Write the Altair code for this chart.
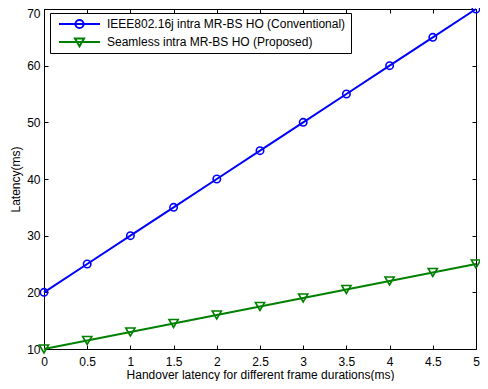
import altair as alt
import pandas as pd

x_vals = [0, 0.5, 1, 1.5, 2, 2.5, 3, 3.5, 4, 4.5, 5]
conventional = [20, 25, 30, 35, 40, 45, 50, 55, 60, 65, 70]
proposed = [10, 11.5, 13, 14.5, 16, 17.5, 19, 20.5, 22, 23.5, 25]
series_names = ["IEEE802.16j intra MR-BS HO (Conventional)",
                "Seamless intra MR-BS HO (Proposed)"]
series_colors = ["#0000ff", "#008000"]
marker_shapes = ["circle", "triangle-down"]
marker_sizes = [55, 85]
x_ticks = [0, 0.5, 1, 1.5, 2, 2.5, 3, 3.5, 4, 4.5, 5]
y_ticks = [10, 20, 30, 40, 50, 60, 70]
x_title = "Handover latency for different frame durations(ms)"
y_title = "Latency(ms)"

rows = []
for name, vals in zip(series_names, [conventional, proposed]):
    for xv, yv in zip(x_vals, vals):
        rows.append({"x": xv, "y": yv, "series": name})
df = pd.DataFrame(rows)

W, H = 432, 340
FONT = "Liberation Sans"

# legend glyphs: line with marker in the middle (MATLAB style)
legend_paths = [
    "M-1,0L1,0M-0.2,0A0.2,0.2,0,1,1,0.2,0A0.2,0.2,0,1,1,-0.2,0",
    "M-1,0L1,0M-0.22,-0.17L0.22,-0.17L0,0.21Z",
]

xs = alt.Scale(domain=[0, 5], nice=False, zero=False)
ys = alt.Scale(domain=[10, 70], nice=False, zero=False)
cs = alt.Scale(domain=series_names, range=series_colors)

common_axis = dict(grid=False, labelFont=FONT, labelFontSize=12,
                   labelColor="black", titleFont=FONT, titleFontSize=12,
                   titleFontWeight="normal", titleColor="black",
                   domainColor="black", tickColor="black")

x_main = alt.Axis(values=x_ticks, format="~g", ticks=False, tickSize=0,
                  domain=True, domainWidth=1, labelPadding=7, labelFlush=False,
                  title=x_title, titleBaseline="alphabetic", titleY=29,
                  orient="bottom", **common_axis)
y_main = alt.Axis(values=y_ticks, ticks=False, tickSize=0, domain=True,
                  domainWidth=1, labelPadding=4, labelFlush=False,
                  labelOffset={"condition": {"test": "datum.value === 70", "value": 4},
                               "value": 0},
                  title=y_title, titleBaseline="middle", titleX=-29,
                  orient="left", **common_axis)

# inward ticks (and top/right frame) via offset axes
x_top_in = alt.Axis(values=x_ticks, labels=False, ticks=True, tickSize=4,
                    domain=True, title="", orient="bottom", offset=-H,
                    **common_axis)
x_bot_in = alt.Axis(values=x_ticks, labels=False, ticks=True, tickSize=4,
                    domain=False, title="", orient="top", offset=-H,
                    **common_axis)
y_right_in = alt.Axis(values=y_ticks, labels=False, ticks=True, tickSize=4,
                      domain=True, title="", orient="left", offset=-W,
                      **common_axis)
y_left_in = alt.Axis(values=y_ticks, labels=False, ticks=True, tickSize=4,
                     domain=False, title="", orient="right", offset=-W,
                     **common_axis)

base = alt.Chart(df)

lines = base.mark_line(strokeWidth=2, clip=False).encode(
    x=alt.X("x:Q", scale=xs, axis=x_main),
    y=alt.Y("y:Q", scale=ys, axis=y_main),
    color=alt.Color("series:N", scale=cs, legend=None),
)

points = base.mark_point(filled=False, strokeWidth=1.6, opacity=1).encode(
    x=alt.X("x:Q", scale=xs, axis=None),
    y=alt.Y("y:Q", scale=ys, axis=None),
    color=alt.Color("series:N", scale=cs, legend=None),
    shape=alt.Shape("series:N",
                    scale=alt.Scale(domain=series_names, range=marker_shapes),
                    legend=None),
    size=alt.Size("series:N",
                  scale=alt.Scale(domain=series_names, range=marker_sizes),
                  legend=None),
)

ticks_a = base.mark_point(opacity=0).encode(
    x=alt.X("x:Q", scale=xs, axis=x_top_in),
    y=alt.Y("y:Q", scale=ys, axis=y_right_in),
)
ticks_b = base.mark_point(opacity=0).encode(
    x=alt.X("x:Q", scale=xs, axis=x_bot_in),
    y=alt.Y("y:Q", scale=ys, axis=y_left_in),
)

legend_props = dict(
    title=None, orient="none", legendX=6, legendY=4,
    padding=5, strokeColor="black", fillColor="white",
    labelFont=FONT, labelFontSize=12, labelColor="black",
    labelOffset=6, symbolSize=1681, symbolStrokeWidth=2,
    symbolOffset=3, clipHeight=12, rowPadding=6, labelLimit=400,
)

legend_layer = base.transform_filter("false").mark_point(
    filled=False, strokeWidth=2, size=1681, opacity=1).encode(
    x=alt.X("x:Q", scale=xs, axis=None),
    y=alt.Y("y:Q", scale=ys, axis=None),
    color=alt.Color("series:N", scale=cs, legend=alt.Legend(**legend_props)),
    shape=alt.Shape("series:N",
                    scale=alt.Scale(domain=series_names, range=legend_paths),
                    legend=alt.Legend(**legend_props)),
)

chart = alt.layer(lines, points, ticks_a, ticks_b, legend_layer).resolve_scale(
    color="independent", shape="independent", size="independent"
).resolve_axis(x="independent", y="independent").properties(
    width=W, height=H,
    autosize=alt.AutoSizeParams(type="none"),
    padding={"left": 36, "top": 1, "right": 4, "bottom": 32},
).configure_view(stroke=None).configure(background="white")

chart.save("out.html", embed_options={"renderer": "svg", "actions": False})
